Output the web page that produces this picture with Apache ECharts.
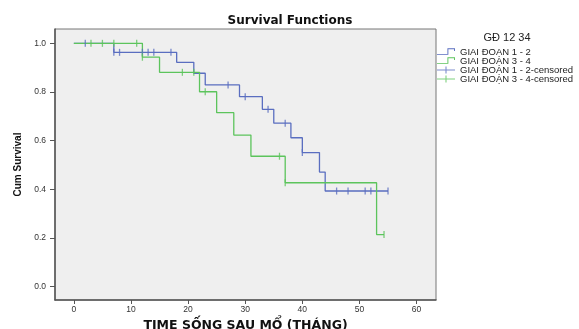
<!DOCTYPE html>
<html><head><meta charset="utf-8">
<script src="https://cdn.jsdelivr.net/npm/echarts@6/dist/echarts.min.js"></script>
<style>html,body{margin:0;padding:0;background:#fff}#c{width:579px;height:329px}</style>
</head><body><div id="c"></div>
<script>
// Kaplan-Meier step data
var blueTimes = [0, 7, 18, 21, 23, 29, 33, 35, 38, 40, 43, 44, 55];
var blueSurv  = [1.0, 0.963, 0.922, 0.877, 0.829, 0.781, 0.729, 0.672, 0.612, 0.551, 0.471, 0.393, 0.393];
var blueCensTimes = [2, 7, 8, 12, 13, 14, 17, 27, 30, 34, 37, 40, 46, 48, 51, 52, 55];
var blueCensSurv  = [1.0, 0.963, 0.963, 0.963, 0.963, 0.963, 0.963, 0.829, 0.781, 0.729, 0.672, 0.551, 0.393, 0.393, 0.393, 0.393, 0.393];
var greenTimes = [0, 12, 15, 22, 25, 28, 31, 37, 53, 54.3];
var greenSurv  = [1.0, 0.943, 0.881, 0.801, 0.715, 0.623, 0.536, 0.427, 0.214, 0.214];
var greenCensTimes = [3, 5, 7, 11, 12, 19, 21, 23, 36, 37, 54.3];
var greenCensSurv  = [1.0, 1.0, 1.0, 1.0, 0.943, 0.881, 0.881, 0.801, 0.536, 0.427, 0.214];
var xTicks = [0, 10, 20, 30, 40, 50, 60];
var yTicks = [0.0, 0.2, 0.4, 0.6, 0.8, 1.0];
var seriesNames = ['GIAI ĐOẠN 1 - 2', 'GIAI ĐOẠN 3 - 4', 'GIAI ĐOẠN 1 - 2-censored', 'GIAI ĐOẠN 3 - 4-censored'];

function zip(a, b) { return a.map(function (v, i) { return [v, b[i]]; }); }
var BLUE = '#5a6ec0', GREEN = '#5cc45c';
// icons drawn in a 20 x 8 box
var stepIcon = 'path://M0,8 L0,7 L12,7 L12,1 L18,1 L18,3 L19,3 L19,0 L11,0 L11,6 L0,6 Z M0,8 L0.01,8 Z';
var crossIcon = 'path://M0,3.5 L20,3.5 L20,4.5 L0,4.5 Z M9.4,0 L10.6,0 L10.6,8 L9.4,8 Z';
var font = 'Liberation Sans, Arial, sans-serif';
var wide = 'DejaVu Sans, Verdana, sans-serif';

var chart = echarts.init(document.getElementById('c'), null, {renderer: 'canvas'});
chart.setOption({
  animation: false,
  backgroundColor: '#fff',
  textStyle: {fontFamily: font},
  graphic: [
    {type: 'text', x: 290, y: 21, style: {text: 'Survival Functions', textAlign: 'center', textVerticalAlign: 'middle',
      font: 'bold 12px ' + wide, fill: '#111'}},
    {type: 'text', x: 507, y: 38, style: {text: 'GĐ 12 34', textAlign: 'center', textVerticalAlign: 'middle',
      font: '11px ' + font, fill: '#222'}}
  ],
  legend: {
    orient: 'vertical', left: 432, top: 42, itemWidth: 18, itemHeight: 8, itemGap: -1,
    textStyle: {fontSize: 9.5, color: '#222', fontFamily: font},
    data: [
      {name: seriesNames[0], icon: stepIcon},
      {name: seriesNames[1], icon: stepIcon},
      {name: seriesNames[2], icon: crossIcon},
      {name: seriesNames[3], icon: crossIcon}
    ]
  },
  grid: {left: 55, top: 29, right: 143, bottom: 29, show: true, backgroundColor: '#efefef',
         borderColor: '#777', borderWidth: 1, containLabel: false, outerBoundsMode: 'none'},
  xAxis: {
    type: 'value', min: -3.3, max: 63.4,
    name: 'TIME SỐNG SAU MỔ (THÁNG)', nameLocation: 'middle', nameGap: 18,
    nameTextStyle: {fontSize: 12.5, fontWeight: 'bold', color: '#111', fontFamily: wide},
    axisLine: {show: true, onZero: false, lineStyle: {color: '#555', width: 1.5}},
    axisTick: {show: true, length: 4, customValues: xTicks, lineStyle: {color: '#555'}},
    axisLabel: {customValues: xTicks, fontSize: 8.5, color: '#333', margin: 5, fontFamily: font},
    splitLine: {show: false}
  },
  yAxis: {
    type: 'value', min: -0.055, max: 1.059,
    name: 'Cum Survival', nameLocation: 'middle', nameGap: 31,
    nameTextStyle: {fontSize: 10, fontWeight: 'bold', color: '#111', fontFamily: font},
    axisLine: {show: true, onZero: false, lineStyle: {color: '#555', width: 1.5}},
    axisTick: {show: true, length: 5, customValues: yTicks, lineStyle: {color: '#555'}},
    axisLabel: {customValues: yTicks, fontSize: 8.5, color: '#333', margin: 9, fontFamily: font,
                formatter: function (v) { return v.toFixed(1); }},
    splitLine: {show: false}
  },
  series: [
    {name: seriesNames[1], type: 'line', step: 'end', data: zip(greenTimes, greenSurv),
     showSymbol: false, lineStyle: {color: GREEN, width: 1.3}, itemStyle: {color: GREEN}, z: 3},
    {name: seriesNames[0], type: 'line', step: 'end', data: zip(blueTimes, blueSurv),
     showSymbol: false, lineStyle: {color: BLUE, width: 1.3}, itemStyle: {color: BLUE}, z: 2},
    {name: seriesNames[2], type: 'scatter', data: zip(blueCensTimes, blueCensSurv),
     symbol: 'rect', symbolSize: [1.3, 7], itemStyle: {color: BLUE}, z: 4},
    {name: seriesNames[3], type: 'scatter', data: zip(greenCensTimes, greenCensSurv),
     symbol: 'rect', symbolSize: [1.3, 7], itemStyle: {color: GREEN}, z: 4}
  ]
});
</script></body></html>
